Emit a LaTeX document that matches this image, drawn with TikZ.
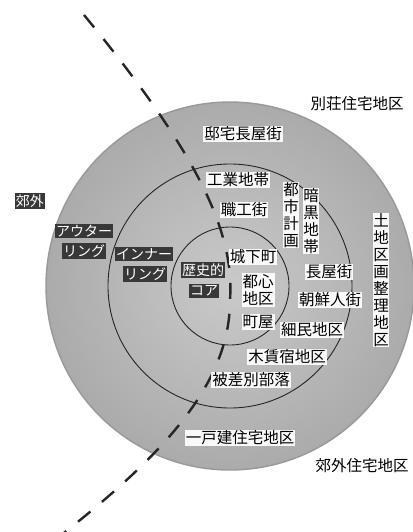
\documentclass[tikz,border=0pt]{standalone}
\usepackage{fontspec}
\newfontfamily\jp{Noto Sans CJK JP}
\begin{document}
\begin{tikzpicture}[x=1pt,y=-1pt,
  base/.style={inner sep=1pt,font=\jp\fontsize{15.5}{17}\selectfont},
  lab/.style={base,fill=white,fill opacity=0.92,text opacity=1},
  vlab/.style={lab,align=center,text width=15.5pt,inner sep=0.5pt},
  dark/.style={inner sep=1.2pt,fill=black!78,text=white,font=\jp\fontsize{14}{16}\selectfont},
  ring/.style={draw=black!85,line width=0.9pt},
  border/.style={dashed,dash pattern=on 16pt off 15pt,line width=2.4pt,draw=black!85}
]
\useasboundingbox (0,0) rectangle (412,532);
\coordinate (c) at (230,286);
% outer disc
\shade[inner color=gray!42,outer color=gray!66] (c) circle[radius=184];
\draw[draw=gray!80,line width=1.4pt] (c) circle[radius=184];
\draw[ring] (c) circle[radius=122];
\draw[ring] (c) circle[radius=59];
% dashed boundary
\coordinate (d0) at (84,15);
\coordinate (d1) at (230,300);
\coordinate (d2) at (60,536);
\draw[border] (d0) .. controls (195,150) and (235,230) .. (d1)
  .. controls (230,380) and (170,450) .. (d2);
% labels outside
\node[base] (bessou) at (357,104) {別荘住宅地区};
\node[base] (kougaiJ) at (362,466) {郊外住宅地区};
\node[dark] (kougai) at (30,201) {郊外};
% ring labels
\node[dark] (outer1) at (84,231) {アウター};
\node[dark] (outer2) at (84,251) {リング};
\node[dark] (inner1) at (144,254) {インナー};
\node[dark] (inner2) at (145,274) {リング};
\node[dark] (core1) at (203,270) {歴史的};
\node[dark] (core2) at (204,291) {コア};
% zone labels
\node[lab] (teitaku) at (243,134) {邸宅長屋街};
\node[lab] (kougyou) at (238,180) {工業地帯};
\node[lab] (shokkou) at (244,210) {職工街};
\node[vlab] (toshi) at (291,215) {都\\市\\計\\画};
\node[vlab] (ankoku) at (311,221) {暗\\黒\\地\\帯};
\node[vlab] (tochi) at (381,280) {土\\地\\区\\画\\整\\理\\地\\区};
\node[lab] (joukamachi) at (253,257) {城下町};
\node[lab,align=center] (toshin) at (258,290) {都心\\地区};
\node[lab] (machiya) at (258,322) {町屋};
\node[lab] (nagaya) at (329,272) {長屋街};
\node[lab] (chousen) at (330,300) {朝鮮人街};
\node[lab] (saimin) at (312,330) {細民地区};
\node[lab] (kichin) at (287,357) {木賃宿地区};
\node[lab] (hisabetsu) at (251,380) {被差別部落};
\node[lab] (ikkodate) at (240,438) {一戸建住宅地区};
\end{tikzpicture}
\end{document}
